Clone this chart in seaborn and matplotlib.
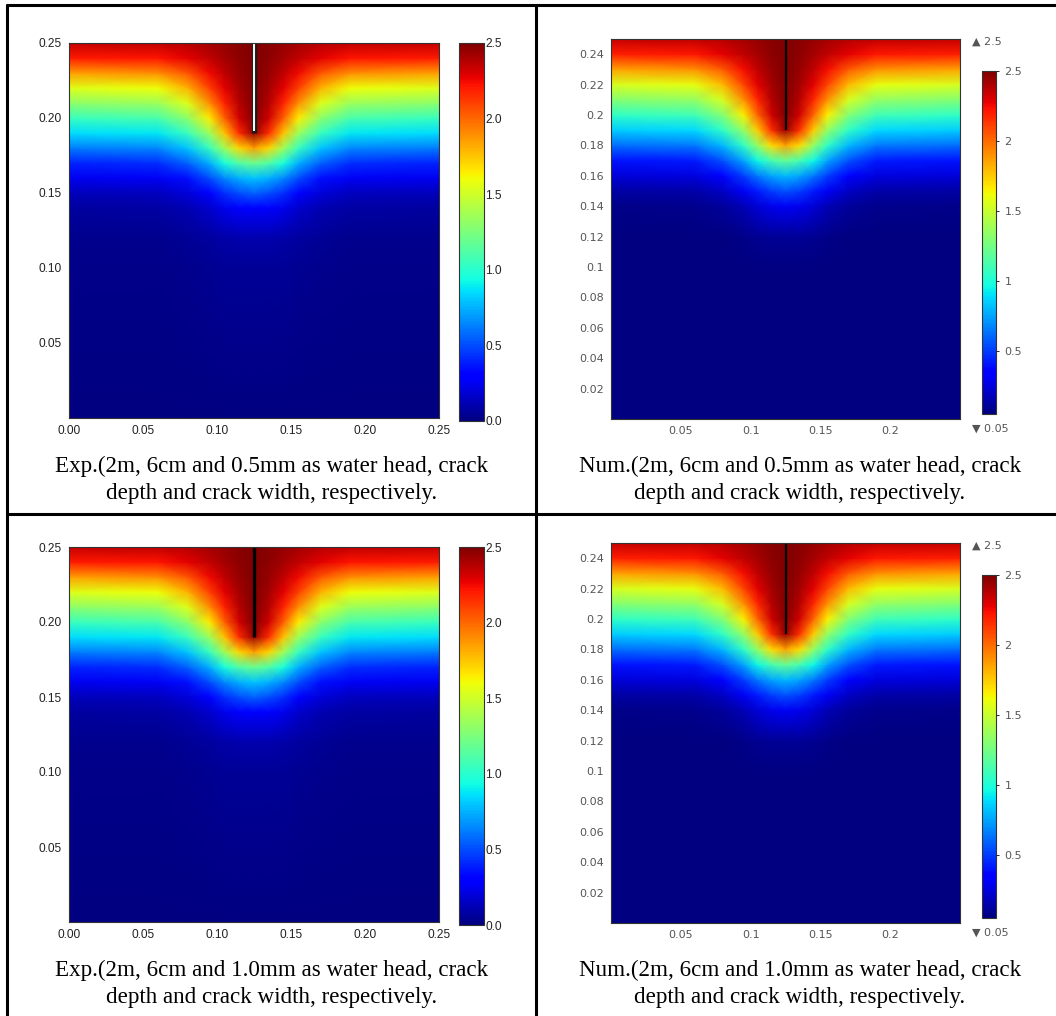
import numpy as np
import matplotlib
matplotlib.use("Agg")
import matplotlib.pyplot as plt
import seaborn as sns
from matplotlib.lines import Line2D

sns.set_style("white")
plt.rcParams['font.family'] = ['DejaVu Sans']

W, H = 1056, 1016

# grid nodes (m); x is the left half, mirrored about the crack
x_half = [0.0, 0.06, 0.08, 0.095, 0.105, 0.115, 0.125]
y_nodes = [0.0, 0.10, 0.12, 0.14, 0.15, 0.16, 0.17, 0.18, 0.19,
           0.20, 0.21, 0.22, 0.23, 0.24, 0.25]

# water head (m), one row per y node, columns follow x_half
head_rows = [
    [0.00, 0.00, 0.00, 0.00, 0.00, 0.00, 0.00],
    [0.02, 0.02, 0.03, 0.04, 0.05, 0.05, 0.05],
    [0.03, 0.03, 0.05, 0.07, 0.09, 0.10, 0.10],
    [0.07, 0.08, 0.11, 0.17, 0.24, 0.28, 0.30],
    [0.13, 0.14, 0.20, 0.30, 0.42, 0.50, 0.55],
    [0.25, 0.26, 0.35, 0.50, 0.65, 0.75, 0.80],
    [0.40, 0.42, 0.55, 0.75, 0.95, 1.12, 1.20],
    [0.62, 0.65, 0.80, 1.05, 1.35, 1.70, 1.85],
    [0.85, 0.88, 1.05, 1.35, 1.75, 2.15, 2.45],
    [1.05, 1.10, 1.30, 1.65, 2.02, 2.32, 2.50],
    [1.30, 1.35, 1.55, 1.90, 2.18, 2.38, 2.50],
    [1.55, 1.60, 1.80, 2.10, 2.28, 2.42, 2.50],
    [1.85, 1.90, 2.05, 2.25, 2.36, 2.45, 2.50],
    [2.20, 2.22, 2.28, 2.36, 2.42, 2.47, 2.50],
    [2.35, 2.36, 2.38, 2.42, 2.45, 2.48, 2.50],
]

crack_x = 0.125
crack_tip = 0.19

exp_xticks = [0.0, 0.05, 0.10, 0.15, 0.20, 0.25]
exp_yticks = [0.05, 0.10, 0.15, 0.20, 0.25]
exp_cticks = [0.0, 0.5, 1.0, 1.5, 2.0, 2.5]
num_xticks = [0.05, 0.1, 0.15, 0.2]
num_yticks = [0.02, 0.04, 0.06, 0.08, 0.1, 0.12, 0.14, 0.16, 0.18, 0.2, 0.22, 0.24]
num_cticks = [0.5, 1, 1.5, 2, 2.5]

captions = [
    ("Exp.(2m, 6cm and 0.5mm as water head, crack", "depth and crack width, respectively."),
    ("Num.(2m, 6cm and 0.5mm as water head, crack", "depth and crack width, respectively."),
    ("Exp.(2m, 6cm and 1.0mm as water head, crack", "depth and crack width, respectively."),
    ("Num.(2m, 6cm and 1.0mm as water head, crack", "depth and crack width, respectively."),
]

# full mirrored field
x_full = np.array(x_half + [0.25 - v for v in x_half[::-1][1:]])
rows = np.array(head_rows)
z_full = np.hstack([rows, rows[:, ::-1][:, 1:]])
X, Y = np.meshgrid(x_full, np.array(y_nodes))

cmap = matplotlib.colormaps['jet']


def rect(l, r, t, b):
    return [l / W, 1 - b / H, (r - l) / W, (b - t) / H]


fig = plt.figure(figsize=(W / 100, H / 100), dpi=100)

for idx, (line1, line2) in enumerate(captions):
    row, col = divmod(idx, 2)
    dy = 504 * row
    exp = col == 0

    if exp:
        ax = fig.add_axes(rect(69, 439, 43 + dy, 418 + dy))
        cax = fig.add_axes(rect(459, 484, 43 + dy, 421 + dy))
        vmin = 0.0
        tick_font = 'Liberation Sans'
        tick_color = '#222222'
        fs = 8.6
    else:
        ax = fig.add_axes(rect(611, 960, 39 + dy, 419 + dy))
        cax = fig.add_axes(rect(982, 996, 71 + dy, 414 + dy))
        vmin = 0.05
        tick_font = 'DejaVu Sans'
        tick_color = '#555555'
        fs = 8

    mesh = ax.pcolormesh(X, Y, z_full, shading='gouraud', cmap=cmap,
                         vmin=vmin, vmax=2.5, rasterized=True)
    ax.set_xlim(0, 0.25)
    ax.set_ylim(0, 0.25)

    # crack
    if idx == 0:
        ax.plot([crack_x, crack_x], [crack_tip, 0.25], color='#1a1a1a', lw=3.8,
                solid_capstyle='butt')
        ax.plot([crack_x, crack_x], [crack_tip + 0.001, 0.25], color='#f4f4f4', lw=1.5,
                solid_capstyle='butt')
    elif idx == 2:
        ax.plot([crack_x, crack_x], [crack_tip, 0.25], color='black', lw=2.4,
                solid_capstyle='butt')
    else:
        ax.plot([crack_x, crack_x], [crack_tip, 0.25], color='black', lw=1.6,
                solid_capstyle='butt')

    cb = fig.colorbar(mesh, cax=cax)
    cb.outline.set_linewidth(0.8)
    cb.outline.set_edgecolor('#333333')

    if exp:
        ax.set_xticks(exp_xticks)
        ax.set_xticklabels([f"{v:.2f}" for v in exp_xticks])
        ax.set_yticks(exp_yticks)
        ax.set_yticklabels([f"{v:.2f}" for v in exp_yticks])
        cb.set_ticks(exp_cticks)
        cb.set_ticklabels([f"{v:.1f}" for v in exp_cticks])
        cax.tick_params(direction='in', left=True, right=True, length=3,
                        width=0.7, pad=1, labelsize=fs, labelcolor=tick_color)
    else:
        ax.set_xticks(num_xticks)
        ax.set_xticklabels([f"{v:g}" for v in num_xticks])
        ax.set_yticks(num_yticks)
        ax.set_yticklabels([f"{v:g}" for v in num_yticks])
        cb.set_ticks(num_cticks)
        cb.set_ticklabels([f"{v:g}" for v in num_cticks])
        cax.tick_params(direction='inout', right=True, length=4,
                        width=0.7, pad=4, labelsize=fs, labelcolor=tick_color)
        fig.text(972 / W, 1 - (42 + dy) / H, "\u25b2 2.5", fontsize=fs,
                 color=tick_color, ha='left', va='center')
        fig.text(972 / W, 1 - (429 + dy) / H, "\u25bc 0.05", fontsize=fs,
                 color=tick_color, ha='left', va='center')

    ax.tick_params(direction='in', top=True, right=True, length=3, width=0.7,
                   pad=5, labelsize=fs, labelcolor=tick_color)
    for lab in ax.get_xticklabels() + ax.get_yticklabels() + cax.get_yticklabels():
        lab.set_fontfamily(tick_font)
    for sp in ax.spines.values():
        sp.set_linewidth(0.8)
        sp.set_edgecolor('#333333')

    cx = 272 if exp else 800
    fig.text(cx / W, 1 - (466 + dy) / H, line1, ha='center', va='center',
             fontfamily='Liberation Serif', fontsize=16.6, color='black')
    fig.text(cx / W, 1 - (493 + dy) / H, line2, ha='center', va='center',
             fontfamily='Liberation Serif', fontsize=16.6, color='black')

# table borders
border = dict(transform=fig.transFigure, color='black', lw=2.2)
fig.add_artist(Line2D([7 / W, 7 / W], [0, 1 - 5 / H], **border))
fig.add_artist(Line2D([7 / W, 1], [1 - 5 / H, 1 - 5 / H], **border))
fig.add_artist(Line2D([536 / W, 536 / W], [0, 1 - 5 / H], **border))
fig.add_artist(Line2D([7 / W, 1], [1 - 514 / H, 1 - 514 / H], **border))

fig.savefig('out.png', dpi=100)
